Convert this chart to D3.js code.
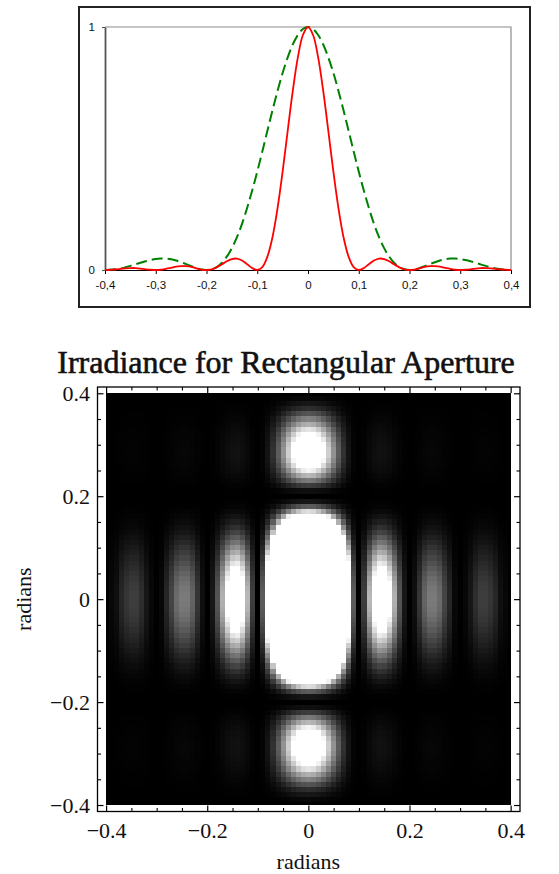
<!DOCTYPE html>
<html><head><meta charset="utf-8">
<script src="https://cdn.jsdelivr.net/npm/d3@7"></script>
<style>
html,body{margin:0;padding:0;background:#fff;}
svg{display:block;}
</style></head><body>
<svg id="chart" width="559" height="874"></svg>
<script>
// Sample angles (radians) shared by both profiles and the irradiance map
const angle = [
  -0.40,-0.39,-0.38,-0.37,-0.36,-0.35,-0.34,-0.33,-0.32,-0.31,
  -0.30,-0.29,-0.28,-0.27,-0.26,-0.25,-0.24,-0.23,-0.22,-0.21,
  -0.20,-0.19,-0.18,-0.17,-0.16,-0.15,-0.14,-0.13,-0.12,-0.11,
  -0.10,-0.09,-0.08,-0.07,-0.06,-0.05,-0.04,-0.03,-0.02,-0.01,
   0.00,
   0.01, 0.02, 0.03, 0.04, 0.05, 0.06, 0.07, 0.08, 0.09, 0.10,
   0.11, 0.12, 0.13, 0.14, 0.15, 0.16, 0.17, 0.18, 0.19, 0.20,
   0.21, 0.22, 0.23, 0.24, 0.25, 0.26, 0.27, 0.28, 0.29, 0.30,
   0.31, 0.32, 0.33, 0.34, 0.35, 0.36, 0.37, 0.38, 0.39, 0.40
];

// Normalised irradiance along the long side of the aperture (red, solid)
const irradianceNarrow = [
  0,.001,.002,.005,.007,.008,.008,.006,.003,.001,
  0,.001,.005,.009,.014,.016,.016,.013,.007,.002,
  0,.003,.011,.023,.036,.045,.047,.039,.024,.008,
  0,.012,.055,.135,.255,.405,.573,.737,.875,.967,
  1,
  .967,.875,.737,.573,.405,.255,.135,.055,.012,0,
  .008,.024,.039,.047,.045,.036,.023,.011,.003,0,
  .002,.007,.013,.016,.016,.014,.009,.005,.001,0,
  .001,.003,.006,.008,.008,.007,.005,.002,.001,0
];

// Normalised irradiance along the short side of the aperture (green, dashed)
const irradianceWide = [
  0,.001,.003,.006,.011,.017,.023,.030,.036,.041,
  .045,.047,.047,.044,.039,.032,.024,.016,.008,.002,
  0,.003,.012,.029,.055,.090,.135,.190,.255,.327,
  .405,.488,.573,.657,.737,.811,.875,.928,.967,.992,
  1,
  .992,.967,.928,.875,.811,.737,.657,.573,.488,.405,
  .327,.255,.190,.135,.090,.055,.029,.012,.003,0,
  .002,.008,.016,.024,.032,.039,.044,.047,.047,.045,
  .041,.036,.030,.023,.017,.011,.006,.003,.001,0
];

const profileTicks = [-0.4,-0.3,-0.2,-0.1,0,0.1,0.2,0.3,0.4];
const profileTickLabels = ["-0,4","-0,3","-0,2","-0,1","0","0,1","0,2","0,3","0,4"];
const profileLevelTicks = [0,1];
const profileLevelLabels = ["0","1"];

const heatTicks = [-0.4,-0.2,0,0.2,0.4];
const heatTickLabels = ["\u22120.4","\u22120.2","0","0.2","0.4"];
const heatMinorTicks = [-0.35,-0.3,-0.25,-0.15,-0.1,-0.05,0.05,0.1,0.15,0.25,0.3,0.35];
const heatTitle = "Irradiance for Rectangular Aperture";
const heatAxisLabel = "radians";
// Display gain of the density plot: the map saturates to white above 1/exposure
const exposure = 30;

const svg = d3.select("#chart");

// ---------- Profile chart ----------
const box = {x0: 79, x1: 530, y0: 7, y1: 307};
svg.append("rect")
  .attr("x", box.x0).attr("y", box.y0)
  .attr("width", box.x1 - box.x0).attr("height", box.y1 - box.y0)
  .attr("fill", "#fff").attr("stroke", "#222").attr("stroke-width", 2);

const px = d3.scaleLinear().domain([-0.4, 0.4]).range([105, 511]);
const py = d3.scaleLinear().domain([0, 1]).range([270, 27]);

// plot-area border (top and right)
svg.append("path")
  .attr("d", `M${px(-0.4)},${py(1)}H${px(0.4)}V${py(0)}`)
  .attr("fill", "none").attr("stroke", "#8c8c8c").attr("stroke-width", 1.2);

const profileAxisX = d3.axisBottom(px)
  .tickValues(profileTicks)
  .tickFormat((d, i) => profileTickLabels[i])
  .tickSize(4).tickPadding(7).tickSizeOuter(0);
const gx = svg.append("g").attr("transform", `translate(0,${py(0)})`).call(profileAxisX);
gx.select(".domain").attr("stroke", "#000").attr("stroke-width", 1.2);
gx.selectAll("line").attr("stroke", "#000");
gx.selectAll("text").attr("font-family", "Liberation Sans, Arial, sans-serif")
  .attr("font-size", 11.5).attr("fill", "#111");

const profileAxisY = d3.axisLeft(py)
  .tickValues(profileLevelTicks)
  .tickFormat((d, i) => profileLevelLabels[i])
  .tickSize(3).tickPadding(7).tickSizeOuter(0);
const gy = svg.append("g").attr("transform", `translate(${px(-0.4)},0)`).call(profileAxisY);
gy.select(".domain").attr("stroke", "#555").attr("stroke-width", 1.8);
gy.selectAll("line").attr("stroke", "#555");
gy.selectAll("text").attr("font-family", "Liberation Sans, Arial, sans-serif")
  .attr("font-size", 11.5).attr("fill", "#111");

const profileLine = d3.line()
  .x((d, i) => px(angle[i])).y(d => py(d))
  .curve(d3.curveCatmullRom.alpha(0.5));

svg.append("path").datum(irradianceWide)
  .attr("d", profileLine)
  .attr("fill", "none").attr("stroke", "#008000").attr("stroke-width", 2)
  .attr("stroke-dasharray", "11,5");

svg.append("path").datum(irradianceNarrow)
  .attr("d", profileLine)
  .attr("fill", "none").attr("stroke", "#ff0000").attr("stroke-width", 1.8);

// ---------- Irradiance map ----------
const hx = d3.scaleLinear().domain([-0.417, 0.4185]).range([97.5, 520]);
const hy = d3.scaleLinear().domain([-0.4126, 0.4122]).range([811.5, 387]);
const half = 0.005;
const clampA = v => Math.max(-0.4, Math.min(0.4, v));

const cells = [];
angle.forEach((ay, j) => {
  angle.forEach((ax, i) => {
    cells.push({ax, ay, v: Math.min(1, exposure * irradianceNarrow[i] * irradianceWide[j])});
  });
});

const heat = svg.append("g").attr("shape-rendering", "crispEdges");
heat.append("rect")
  .attr("x", hx(-0.4)).attr("y", hy(0.4))
  .attr("width", hx(0.4) - hx(-0.4)).attr("height", hy(-0.4) - hy(0.4))
  .attr("fill", "#000");
heat.selectAll("rect.cell").data(cells).join("rect")
  .attr("class", "cell")
  .attr("x", d => hx(clampA(d.ax - half)))
  .attr("width", d => hx(clampA(d.ax + half)) - hx(clampA(d.ax - half)))
  .attr("y", d => hy(clampA(d.ay + half)))
  .attr("height", d => hy(clampA(d.ay - half)) - hy(clampA(d.ay + half)))
  .attr("fill", d => d3.rgb(255 * d.v, 255 * d.v, 255 * d.v));

// frame
svg.append("rect")
  .attr("x", hx.range()[0]).attr("y", hy.range()[1])
  .attr("width", hx.range()[1] - hx.range()[0])
  .attr("height", hy.range()[0] - hy.range()[1])
  .attr("fill", "none").attr("stroke", "#000").attr("stroke-width", 1.3);

const serif = "Liberation Serif, Times New Roman, serif";

function frameAxis(axisFn, scale, major, transform, labelled, padding) {
  const gMaj = svg.append("g").attr("transform", transform)
    .call(axisFn(scale).tickValues(major)
      .tickFormat(labelled ? (d, i) => heatTickLabels[i] : () => "")
      .tickSizeInner(-6).tickSizeOuter(0).tickPadding(padding));
  gMaj.select(".domain").remove();
  gMaj.selectAll("line").attr("stroke", "#000").attr("stroke-width", 1.2);
  gMaj.selectAll("text").attr("font-family", serif).attr("font-size", 22).attr("fill", "#111");
  const gMin = svg.append("g").attr("transform", transform)
    .call(axisFn(scale).tickValues(heatMinorTicks).tickFormat(() => "")
      .tickSizeInner(-3.5).tickSizeOuter(0));
  gMin.select(".domain").remove();
  gMin.selectAll("line").attr("stroke", "#000").attr("stroke-width", 1.1);
  return gMaj;
}
frameAxis(d3.axisBottom, hx, heatTicks, `translate(0,${hy.range()[0]})`, true, 11);
frameAxis(d3.axisTop, hx, heatTicks, `translate(0,${hy.range()[1]})`, false, 0);
frameAxis(d3.axisLeft, hy, heatTicks, `translate(${hx.range()[0]},0)`, true, 7.5);
frameAxis(d3.axisRight, hy, heatTicks, `translate(${hx.range()[1]},0)`, false, 0);

svg.append("text")
  .attr("x", 286).attr("y", 373)
  .attr("text-anchor", "middle")
  .attr("font-family", serif).attr("font-size", 32).attr("fill", "#111")
  .attr("stroke", "#111").attr("stroke-width", 0.6)
  .text(heatTitle);

svg.append("text")
  .attr("x", hx(0)).attr("y", 869)
  .attr("text-anchor", "middle")
  .attr("font-family", serif).attr("font-size", 22).attr("fill", "#111")
  .text(heatAxisLabel);

svg.append("text")
  .attr("transform", `translate(31,${hy(0)}) rotate(-90)`)
  .attr("text-anchor", "middle")
  .attr("font-family", serif).attr("font-size", 22).attr("fill", "#111")
  .text(heatAxisLabel);
</script>
</body></html>
